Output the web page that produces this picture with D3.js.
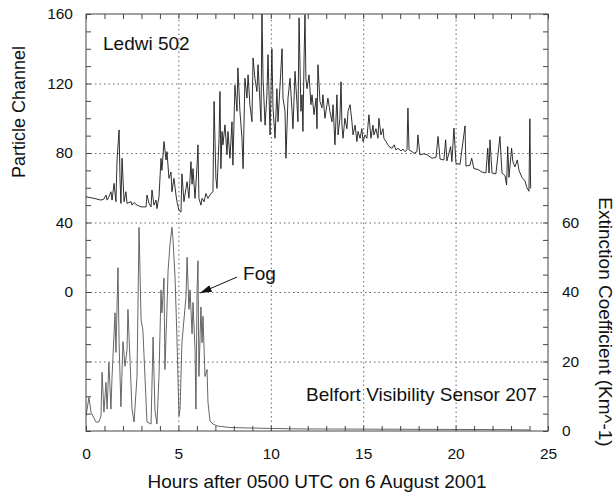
<!DOCTYPE html>
<html>
<head>
<meta charset="utf-8">
<script src="https://cdn.jsdelivr.net/npm/d3@7"></script>
<style>
  body { margin: 0; background: #fff; }
  #chart { width: 615px; height: 495px; }
  text { font-family: "Liberation Sans", Arial, Helvetica, sans-serif; fill: #111; }
  .frame { fill: none; stroke: #444; stroke-width: 1; }
  .grid line { stroke: #666; stroke-width: 1; stroke-dasharray: 1.5, 3; }
  .grid path, .minor path, .labels path { display: none; }
  .minor line { stroke: #444; }
  .series { fill: none; stroke-width: 0.9; stroke-linejoin: round; }
</style>
</head>
<body>
<div id="chart"></div>
<script>

// Ledwi 502 particle channel, [hours, channel]
const ledwiSeries = [
  [0.00,54.8],[0.43,53.9],[0.81,52.9],[0.97,53.5],[1.08,55.8],[1.14,52.9],[1.24,54.8],[1.35,57.7],[1.41,52.9],
  [1.52,62.5],[1.62,52.0],[1.68,76.0],[1.79,93.3],[1.84,65.4],[1.89,51.0],[1.95,77.0],[2.06,52.0],[2.16,57.7],
  [2.22,51.0],[2.44,52.0],[2.49,50.0],[2.60,51.5],[2.76,50.0],[2.98,49.0],[3.25,49.0],[3.30,55.8],[3.41,51.0],
  [3.52,49.0],[3.57,58.7],[3.68,50.0],[3.79,52.9],[3.84,48.0],[3.95,54.8],[4.06,76.9],[4.11,70.0],[4.22,86.6],
  [4.33,76.0],[4.38,80.8],[4.49,65.4],[4.60,69.0],[4.65,57.7],[4.76,65.4],[4.87,55.8],[4.92,52.0],[5.03,47.0],
  [5.14,46.0],[5.19,68.0],[5.30,52.0],[5.41,59.6],[5.47,63.5],[5.57,54.0],[5.68,75.0],[5.74,62.0],[5.79,71.0],
  [5.90,53.9],[6.01,73.0],[6.06,84.7],[6.11,53.9],[6.22,50.0],[6.28,53.9],[6.39,52.0],[6.49,56.7],[6.60,53.9],
  [6.76,56.7],[6.87,57.7],[6.93,109.7],[7.03,65.4],[7.09,59.6],[7.20,88.5],[7.25,115.4],[7.30,71.0],[7.36,92.4],
  [7.41,84.7],[7.52,96.2],[7.63,79.0],[7.68,92.4],[7.79,77.0],[7.90,98.0],[7.95,73.0],[8.06,119.0],[8.17,104.0],
  [8.22,129.0],[8.33,104.0],[8.44,88.5],[8.50,71.0],[8.60,123.0],[8.71,111.6],[8.77,125.0],[8.87,107.8],[8.98,98.0],
  [9.04,134.7],[9.14,123.0],[9.25,115.4],[9.31,130.8],[9.42,107.8],[9.47,98.0],[9.52,162.0],[9.58,123.0],[9.69,96.0],
  [9.79,113.5],[9.85,136.6],[9.96,90.4],[10.06,140.0],[10.12,105.8],[10.23,88.5],[10.33,117.0],[10.39,98.0],
  [10.50,119.0],[10.61,140.0],[10.66,111.6],[10.77,104.0],[10.82,77.0],[10.93,111.6],[11.04,123.0],[11.15,104.0],
  [11.20,94.0],[11.31,127.0],[11.42,107.8],[11.47,98.0],[11.53,157.8],[11.63,104.0],[11.69,113.5],[11.74,92.4],
  [11.80,134.7],[11.85,159.7],[11.90,123.0],[11.96,117.0],[12.07,125.0],[12.17,107.8],[12.23,113.5],[12.34,102.0],
  [12.45,111.6],[12.50,94.0],[12.55,130.8],[12.66,109.7],[12.77,106.0],[12.82,113.5],[12.93,100.0],[13.04,107.8],
  [13.09,111.6],[13.20,104.0],[13.31,98.0],[13.37,107.8],[13.47,84.7],[13.58,113.5],[13.64,90.4],[13.74,100.0],
  [13.80,121.0],[13.85,96.0],[13.91,88.5],[14.01,100.0],[14.12,94.0],[14.18,104.0],[14.29,107.8],[14.39,98.0],
  [14.45,90.4],[14.56,96.0],[14.66,86.6],[14.72,92.4],[14.83,88.5],[14.93,94.0],[14.99,86.6],[15.10,90.4],
  [15.20,88.5],[15.26,96.0],[15.31,102.0],[15.42,88.5],[15.53,96.0],[15.58,90.4],[15.69,94.0],[15.80,88.5],
  [15.85,100.0],[15.96,90.4],[16.07,94.0],[16.12,88.5],[16.23,86.6],[16.34,84.7],[16.40,83.7],[16.56,82.7],
  [16.67,84.7],[16.77,81.8],[16.88,82.7],[17.05,81.2],[17.15,82.3],[17.26,80.8],[17.37,81.8],[17.42,105.8],
  [17.48,81.8],[17.64,80.8],[17.75,79.8],[17.91,80.8],[17.96,90.4],[18.07,79.0],[18.29,79.5],[18.45,79.0],
  [18.72,77.0],[18.94,77.5],[19.05,89.5],[19.16,76.5],[19.37,76.0],[19.46,87.6],[19.53,75.5],[19.73,83.7],
  [19.80,75.0],[19.91,94.3],[20.02,74.0],[20.24,73.5],[20.51,95.6],[20.56,72.5],[20.78,73.0],[20.87,77.0],
  [20.99,71.0],[21.21,70.5],[21.43,69.0],[21.64,68.5],[21.74,82.7],[21.81,68.5],[21.86,87.6],[21.97,68.5],
  [22.18,68.0],[22.40,89.5],[22.51,68.5],[22.67,67.0],[22.76,61.6],[22.82,83.7],[22.89,66.0],[23.03,82.7],
  [23.10,75.0],[23.21,72.0],[23.34,76.0],[23.43,70.0],[23.59,66.0],[23.75,64.0],[23.86,60.0],[23.97,58.0],
  [24.02,99.7],[24.06,59.6]
];

// Belfort visibility sensor 207 extinction coefficient, [hours, km^-1]
const belfortSeries = [
  [0.00,4.3],[0.16,9.7],[0.27,5.4],[0.54,2.6],[0.70,2.6],[0.81,4.3],[0.87,16.9],[0.97,5.4],[1.08,14.0],
  [1.14,6.3],[1.24,19.7],[1.35,6.3],[1.41,15.7],[1.57,34.0],[1.62,22.6],[1.73,47.0],[1.79,25.4],[1.89,7.0],
  [2.00,25.7],[2.11,18.6],[2.22,23.4],[2.27,35.0],[2.38,20.6],[2.49,6.3],[2.60,2.6],[2.76,15.7],[2.87,58.6],
  [2.98,32.0],[3.08,29.0],[3.19,15.7],[3.30,2.6],[3.52,2.0],[3.63,27.0],[3.73,6.0],[3.84,2.0],[3.95,15.7],
  [4.06,40.6],[4.11,34.0],[4.22,44.0],[4.27,17.7],[4.38,35.0],[4.44,46.0],[4.55,54.0],[4.65,58.6],[4.71,55.0],
  [4.82,44.0],[4.92,27.0],[5.03,4.3],[5.09,6.3],[5.19,25.4],[5.25,29.0],[5.41,38.6],[5.47,50.0],[5.57,35.0],
  [5.63,40.6],[5.74,28.0],[5.79,37.0],[5.90,23.4],[5.95,6.3],[6.01,40.6],[6.06,49.0],[6.11,15.7],[6.22,35.7],
  [6.28,25.4],[6.33,33.0],[6.44,15.7],[6.55,17.7],[6.60,8.3],[6.71,2.9],[6.87,2.0],[7.14,1.4],[7.79,1.0],
  [9.42,0.8],[11.58,0.6],[16.99,0.5],[22.40,0.4],[24.00,0.3]
];

const hourTicks = [0, 5, 10, 15, 20, 25];
const channelTicks = [0, 40, 80, 120, 160];
const extinctionTicks = [0, 20, 40, 60];


/**
 * Two sensor time series on a shared time axis.
 * @class
 */
class SensorChart {

  constructor() {

    this._margin = {
      left: 86,
      top: 14,
      right: 67,
      bottom: 64
    };

    this._width = 615;
    this._height = 495;
  }


  /**
   * Render chart.
   * @param {String} selector
   * @returns {SensorChart}
   */
  renderTo(selector) {

    const margin = this._margin;
    const innerWidth = this._width - margin.left - margin.right;
    const innerHeight = this._height - margin.top - margin.bottom;

    const x = d3.scaleLinear().domain([0, 25]).range([0, innerWidth]);
    const yLeft = d3.scaleLinear().domain([-80, 160]).range([innerHeight, 0]);
    const yRight = d3.scaleLinear().domain([0, 120]).range([innerHeight, 0]);

    this._svg = d3.select(selector)
      .append('svg')
      .attr('width', this._width)
      .attr('height', this._height);

    const canvas = this._svg
      .append('g')
      .attr('transform', 'translate(' + [margin.left, margin.top] + ')');

    canvas.append('clipPath')
      .attr('id', 'plot-clip')
      .append('rect')
      .attr('width', innerWidth)
      .attr('height', innerHeight);

    // dotted grid
    canvas.append('g')
      .attr('class', 'grid')
      .attr('transform', 'translate(0,' + innerHeight + ')')
      .call(d3.axisBottom(x).tickValues([5, 10, 15, 20]).tickSize(-innerHeight).tickFormat(''));

    canvas.append('g')
      .attr('class', 'grid')
      .call(d3.axisLeft(yLeft).tickValues([-40, 0, 40, 80, 120]).tickSize(-innerWidth).tickFormat(''));

    // series
    const ledwiLine = d3.line()
      .x(d => x(d[0]))
      .y(d => yLeft(d[1]));

    const belfortLine = d3.line()
      .x(d => x(d[0]))
      .y(d => yRight(d[1]));

    canvas.append('path')
      .datum(belfortSeries)
      .attr('class', 'series')
      .attr('clip-path', 'url(#plot-clip)')
      .style('stroke', '#555')
      .attr('d', belfortLine);

    canvas.append('path')
      .datum(ledwiSeries)
      .attr('class', 'series')
      .attr('clip-path', 'url(#plot-clip)')
      .style('stroke', '#1a1a1a')
      .attr('d', ledwiLine);

    // inner minor ticks on all four sides
    canvas.append('g')
      .attr('class', 'minor')
      .attr('transform', 'translate(0,' + innerHeight + ')')
      .call(d3.axisBottom(x).ticks(25).tickSize(-5).tickFormat(''));

    canvas.append('g')
      .attr('class', 'minor')
      .call(d3.axisTop(x).ticks(25).tickSize(-5).tickFormat(''));

    canvas.append('g')
      .attr('class', 'minor')
      .call(d3.axisLeft(yLeft).ticks(24).tickSize(-5).tickFormat(''));

    canvas.append('g')
      .attr('class', 'minor')
      .attr('transform', 'translate(' + innerWidth + ',0)')
      .call(d3.axisRight(yRight).ticks(24).tickSize(-5).tickFormat(''));

    canvas.append('rect')
      .attr('class', 'frame')
      .attr('width', innerWidth)
      .attr('height', innerHeight);

    // tick labels
    const xLabels = canvas.append('g')
      .attr('class', 'labels')
      .attr('transform', 'translate(0,' + innerHeight + ')')
      .call(d3.axisBottom(x).tickValues(hourTicks).tickSize(0).tickPadding(17));

    const leftLabels = canvas.append('g')
      .attr('class', 'labels')
      .call(d3.axisLeft(yLeft).tickValues(channelTicks).tickSize(0).tickPadding(13));

    const rightLabels = canvas.append('g')
      .attr('class', 'labels')
      .attr('transform', 'translate(' + innerWidth + ',0)')
      .call(d3.axisRight(yRight).tickValues(extinctionTicks).tickSize(0).tickPadding(14));

    [xLabels, leftLabels, rightLabels].forEach(function(g) {
      g.attr('font-family', null).attr('font-size', null);
      g.selectAll('text').style('font-size', '15.5px').style('fill', '#111');
    });

    // axis titles
    this._svg.append('text')
      .attr('x', margin.left + innerWidth / 2)
      .attr('y', 488)
      .attr('text-anchor', 'middle')
      .style('font-size', '19px')
      .text('Hours after 0500 UTC on 6 August 2001');

    this._svg.append('text')
      .attr('transform', 'translate(25,' + (margin.top + 98) + ') rotate(-90)')
      .attr('text-anchor', 'middle')
      .style('font-size', '18px')
      .text('Particle Channel');

    this._svg.append('text')
      .attr('transform', 'translate(599,' + 322 + ') rotate(90)')
      .attr('text-anchor', 'middle')
      .style('font-size', '19px')
      .text('Extinction Coefficient (Km^-1)');

    // annotations
    canvas.append('text')
      .attr('x', x(0.92))
      .attr('y', yLeft(139))
      .style('font-size', '19px')
      .text('Ledwi 502');

    canvas.append('text')
      .attr('x', x(24.4))
      .attr('y', yRight(8.6))
      .attr('text-anchor', 'end')
      .style('font-size', '19px')
      .text('Belfort Visibility Sensor 207');

    canvas.append('text')
      .attr('x', x(8.5))
      .attr('y', yRight(43.4))
      .style('font-size', '19px')
      .text('Fog');

    const defs = this._svg.append('defs');
    defs.append('marker')
      .attr('id', 'arrow-head')
      .attr('viewBox', '0 0 10 6')
      .attr('refX', 10)
      .attr('refY', 3)
      .attr('markerWidth', 12)
      .attr('markerHeight', 7)
      .attr('markerUnits', 'userSpaceOnUse')
      .attr('orient', 'auto')
      .append('path')
      .attr('d', 'M0,0L10,3L0,6Z')
      .style('fill', '#111');

    canvas.append('line')
      .attr('x1', x(8.17))
      .attr('y1', yRight(44.3))
      .attr('x2', x(6.17))
      .attr('y2', yRight(39.7))
      .style('stroke', '#111')
      .style('stroke-width', 1)
      .attr('marker-end', 'url(#arrow-head)');

    return this;
  }
}

new SensorChart().renderTo('#chart');

</script>
</body>
</html>
